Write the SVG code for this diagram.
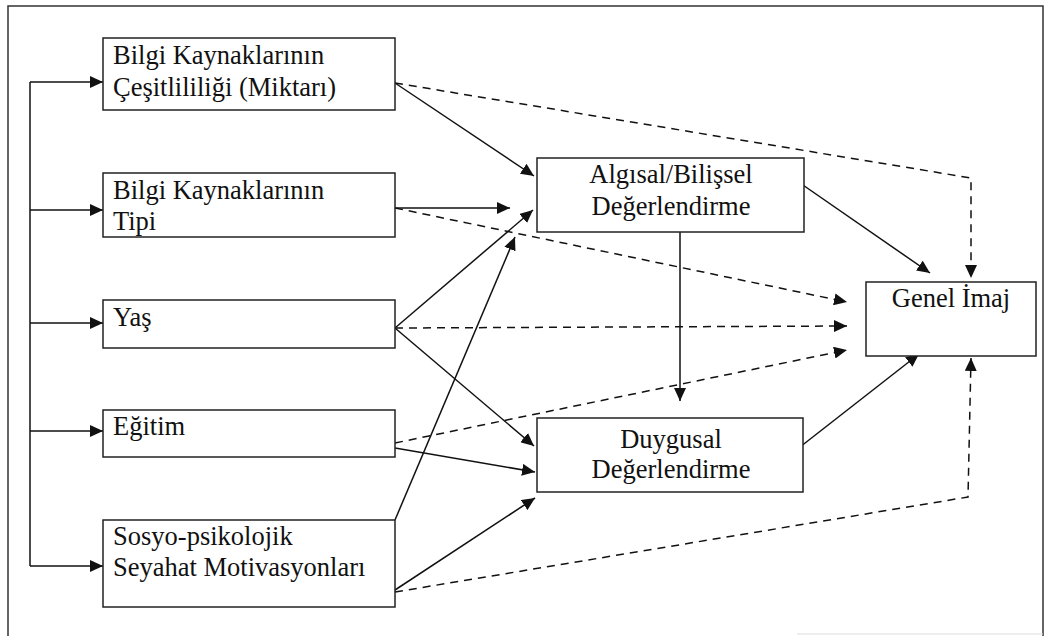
<svg xmlns="http://www.w3.org/2000/svg" width="1047" height="636" viewBox="0 0 1047 636">
<style>
.frame{fill:none;stroke:#333;stroke-width:1.5}
.box{fill:#fff;stroke:#222;stroke-width:1.5}
.t{font-family:"Liberation Serif","Times New Roman",serif;font-size:26.5px;fill:#111}
.c{text-anchor:middle}
.s{fill:none;stroke:#111;stroke-width:1.5}
.d{fill:none;stroke:#111;stroke-width:1.5;stroke-dasharray:8 6}
</style>
<defs>
<marker id="ah" markerUnits="userSpaceOnUse" markerWidth="14" markerHeight="12" refX="13" refY="6" orient="auto">
<path d="M0,0 L13,6 L0,12 z" fill="#111"/>
</marker>
</defs>
<rect width="1047" height="636" fill="#fff"/>
<path class="frame" d="M8,636 L8,6 L1043,6 L1043,636"/>
<line x1="797" y1="634" x2="1043" y2="634" stroke="#ddd" stroke-width="1"/>

<g id="connectors">
<path class="s" d="M30,82 L30,566"/>
<path class="s" marker-end="url(#ah)" d="M30,82 L103,82"/>
<path class="s" marker-end="url(#ah)" d="M30,210 L103,210"/>
<path class="s" marker-end="url(#ah)" d="M30,323 L103,323"/>
<path class="s" marker-end="url(#ah)" d="M30,431 L103,431"/>
<path class="s" marker-end="url(#ah)" d="M30,566 L103,566"/>

<path class="s" marker-end="url(#ah)" d="M395,83 L534,176"/>
<path class="s" marker-end="url(#ah)" d="M395,208 L510,208"/>
<path class="d" marker-end="url(#ah)" d="M395,208 L847,302"/>
<path class="s" marker-end="url(#ah)" d="M395,328 L533,210"/>
<path class="s" marker-end="url(#ah)" d="M395,328 L534,446"/>
<path class="d" marker-end="url(#ah)" d="M395,328 L847,326"/>
<path class="s" marker-end="url(#ah)" d="M395,520 L515,237"/>
<path class="d" marker-end="url(#ah)" d="M395,443 L847,350"/>
<path class="s" marker-end="url(#ah)" d="M395,448 L535,472"/>
<path class="s" marker-end="url(#ah)" d="M395,590 L535,498"/>
<path class="d" marker-end="url(#ah)" d="M395,592 L968,497 L971,358"/>
<path class="d" marker-end="url(#ah)" d="M395,83 L971,178 L971,278"/>
<path class="s" marker-end="url(#ah)" d="M800,183 L930,273"/>
<path class="s" marker-end="url(#ah)" d="M680,232 L680,401"/>
<path class="s" marker-end="url(#ah)" d="M800,447 L919,354"/>
</g>

<g id="n-cesitlilik">
<rect class="box" x="103" y="38" width="292" height="72"/>
<text class="t" x="113" y="64">Bilgi Kaynaklarının</text>
<text class="t" x="113" y="96">Çeşitlililiği (Miktarı)</text>
</g>
<g id="n-tip">
<rect class="box" x="103" y="173" width="292" height="64"/>
<text class="t" x="113" y="199">Bilgi Kaynaklarının</text>
<text class="t" x="113" y="230">Tipi</text>
</g>
<g id="n-yas">
<rect class="box" x="103" y="300" width="292" height="48"/>
<text class="t" x="113" y="326">Yaş</text>
</g>
<g id="n-egitim">
<rect class="box" x="103" y="410" width="292" height="47"/>
<text class="t" x="113" y="435">Eğitim</text>
</g>
<g id="n-sosyo">
<rect class="box" x="103" y="520" width="292" height="87"/>
<text class="t" x="113" y="545">Sosyo-psikolojik</text>
<text class="t" x="113" y="576">Seyahat Motivasyonları</text>
</g>
<g id="n-algisal">
<rect class="box" x="537" y="158" width="267" height="74"/>
<text class="t c" x="671" y="183">Algısal/Bilişsel</text>
<text class="t c" x="671" y="215">Değerlendirme</text>
</g>
<g id="n-duygusal">
<rect class="box" x="537" y="418" width="266" height="74"/>
<text class="t c" x="671" y="448">Duygusal</text>
<text class="t c" x="671" y="478">Değerlendirme</text>
</g>
<g id="n-genel">
<rect class="box" x="866" y="282" width="170" height="74"/>
<text class="t c" x="951" y="307">Genel İmaj</text>
</g>
</svg>
